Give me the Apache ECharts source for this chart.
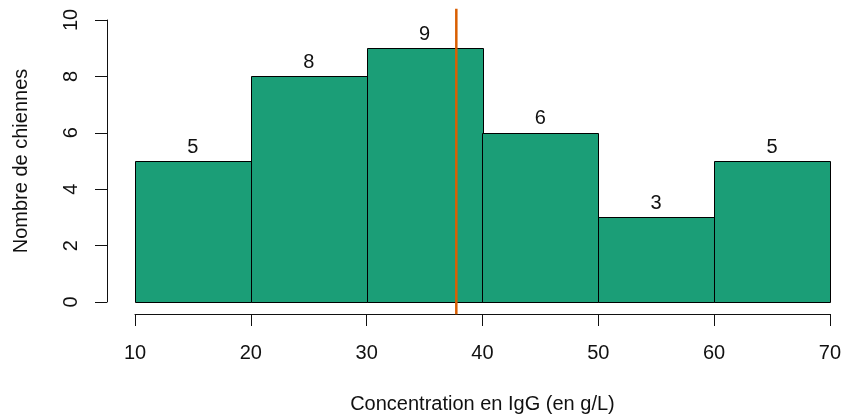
<!DOCTYPE html>
<html>
<head>
<meta charset="utf-8">
<script src="https://cdn.jsdelivr.net/npm/echarts@6/dist/echarts.min.js"></script>
<style>
  html, body { margin: 0; padding: 0; background: #fff; }
  #chart { width: 844px; height: 419px; }
</style>
</head>
<body>
<div id="chart"></div>
<script>
// histogram bins (g/L) and counts
var binStarts = [10, 20, 30, 40, 50, 60];
var binEnds = [20, 30, 40, 50, 60, 70];
var counts = [5, 8, 9, 6, 3, 5];
var meanIgG = 37.7;
var xTicks = [10, 20, 30, 40, 50, 60, 70];
var yTicks = [0, 2, 4, 6, 8, 10];

var font = 'Liberation Sans, Arial, sans-serif';
var ink = '#111';
var fs = 20;

var chart = echarts.init(document.getElementById('chart'));

var histData = binStarts.map(function (s, i) {
    return [s, binEnds[i], counts[i]];
});

var option = {
    animation: false,
    grid: [
        { left: 135, right: 13, top: 20, bottom: 116 },
        // plot region (range padded by 4%, like R) for the mean line
        { left: 135, right: 13, top: 8.7, bottom: 104.7 }
    ],
    xAxis: [{
        gridIndex: 0,
        type: 'value',
        min: 10, max: 70, interval: 10,
        offset: 12,
        axisLine: { show: true, onZero: false, lineStyle: { color: ink, width: 1 } },
        axisTick: { show: true, length: 12, lineStyle: { color: ink } },
        axisLabel: { color: ink, fontSize: fs, fontFamily: font, margin: 29 },
        splitLine: { show: false },
        name: 'Concentration en IgG (en g/L)',
        nameLocation: 'middle',
        nameGap: 80,
        nameTextStyle: { color: ink, fontSize: fs, fontFamily: font }
    }, {
        gridIndex: 1, type: 'value', min: 10, max: 70, show: false
    }],
    yAxis: [{
        gridIndex: 0,
        type: 'value',
        min: 0, max: 10, interval: 2,
        offset: 28,
        axisLine: { show: true, onZero: false, lineStyle: { color: ink, width: 1 } },
        axisTick: { show: true, length: 12, lineStyle: { color: ink } },
        axisLabel: { color: ink, fontSize: fs, fontFamily: font, rotate: 90, margin: 26, align: 'center', verticalAlign: 'bottom' },
        splitLine: { show: false },
        name: 'Nombre de chiennes',
        nameLocation: 'middle',
        nameGap: 76,
        nameRotate: 90,
        nameTextStyle: { color: ink, fontSize: fs, fontFamily: font }
    }, {
        gridIndex: 1, type: 'value', min: -0.4, max: 10.4, show: false
    }],
    series: [{
        type: 'custom',
        xAxisIndex: 0, yAxisIndex: 0,
        data: histData,
        renderItem: function (params, api) {
            var topLeft = api.coord([api.value(0), api.value(2)]);
            var bottomRight = api.coord([api.value(1), 0]);
            var cx = (topLeft[0] + bottomRight[0]) / 2;
            return {
                type: 'group',
                children: [{
                    type: 'rect',
                    shape: {
                        x: Math.round(topLeft[0]) + 0.5,
                        y: Math.round(topLeft[1]) + 0.5,
                        width: Math.round(bottomRight[0] - topLeft[0]),
                        height: Math.round(bottomRight[1] - topLeft[1])
                    },
                    style: { fill: '#1B9E77', stroke: '#000', lineWidth: 1 }
                }, {
                    type: 'text',
                    style: {
                        text: String(api.value(2)),
                        x: cx,
                        y: topLeft[1] - 4,
                        align: 'center',
                        verticalAlign: 'bottom',
                        fontSize: fs,
                        fontFamily: font,
                        fill: ink
                    }
                }]
            };
        }
    }, {
        type: 'line',
        xAxisIndex: 1, yAxisIndex: 1,
        data: [[meanIgG, -0.4], [meanIgG, 10.4]],
        symbol: 'none',
        lineStyle: { color: '#D95F02', width: 2.5 },
        z: 5
    }]
};

chart.setOption(option);
</script>
</body>
</html>
